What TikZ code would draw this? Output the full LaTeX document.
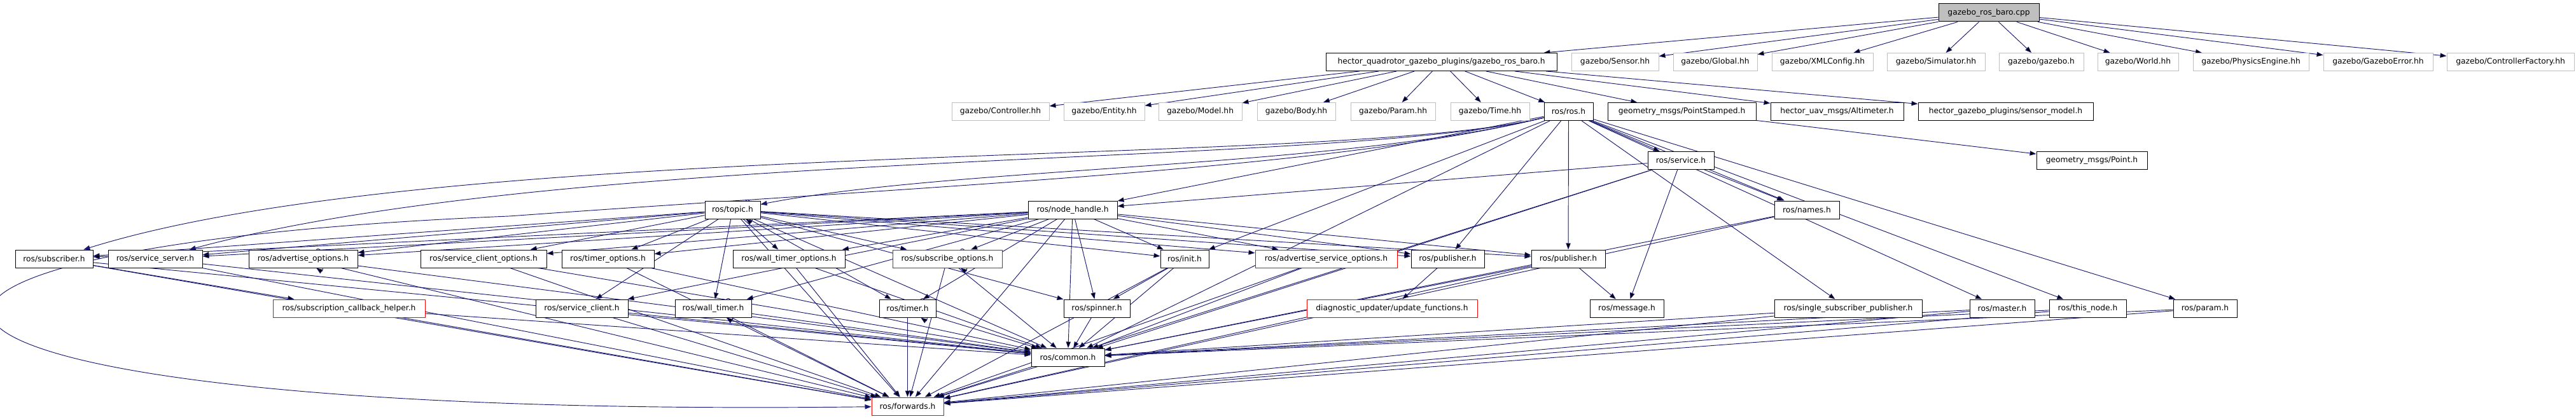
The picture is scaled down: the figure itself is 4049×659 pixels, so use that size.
\documentclass[tikz,border=0pt]{standalone}
\usepackage{fontspec}
\setsansfont{DejaVu Sans}
\usetikzlibrary{arrows.meta,topaths,backgrounds}
\definecolor{edgeblue}{RGB}{25,25,112}
\definecolor{grey75}{RGB}{191,191,191}

\tikzset{
  file/.style={rectangle, draw=black, fill=white, line width=0.75pt, inner sep=0pt,
    minimum height=21pt, font=\sffamily\fontsize{9.2}{10}\selectfont},
  extfile/.style={file, draw=grey75},
  cutfile/.style={file, draw=red},
  mainfile/.style={file, fill=grey75},
  boxw/.style={minimum width=#1*0.75pt},
  incl/.style={draw=edgeblue, line width=0.7pt, -{Triangle[length=7.5pt,width=5.5pt]}},
  loopr/.style={out=35, in=-35, loop, min distance=11pt}
}

\begin{document}
\begin{tikzpicture}[x=0.75pt, y=0.75pt]
  \useasboundingbox (0,0) rectangle (4049,-659);%
  \node[mainfile, boxw=158] (cpp) at (3126,-20) {gazebo\_ros\_baro.cpp};%
  \node[file, boxw=363] (baroh) at (2265.5,-97.5) {hector\_quadrotor\_gazebo\_plugins/gazebo\_ros\_baro.h};%
  \node[extfile, boxw=137] (sensor) at (2538.5,-97.5) {gazebo/Sensor.hh};%
  \node[extfile, boxw=132] (global) at (2696,-97.5) {gazebo/Global.hh};%
  \node[extfile, boxw=159] (xmlcfg) at (2864.5,-97.5) {gazebo/XMLConfig.hh};%
  \node[extfile, boxw=154] (simul) at (3043,-97.5) {gazebo/Simulator.hh};%
  \node[extfile, boxw=133] (gzh) at (3208.5,-97.5) {gazebo/gazebo.h};%
  \node[extfile, boxw=127] (world) at (3360.5,-97.5) {gazebo/World.hh};%
  \node[extfile, boxw=182] (physics) at (3538,-97.5) {gazebo/PhysicsEngine.hh};%
  \node[extfile, boxw=172] (gzerror) at (3738,-97.5) {gazebo/GazeboError.hh};%
  \node[extfile, boxw=200] (ctrlfact) at (3946,-97.5) {gazebo/ControllerFactory.hh};%

  \node[extfile, boxw=153] (ctrl) at (1572.5,-175.5) {gazebo/Controller.hh};%
  \node[extfile, boxw=127] (entity) at (1735.5,-175.5) {gazebo/Entity.hh};%
  \node[extfile, boxw=131] (model) at (1886.5,-175.5) {gazebo/Model.hh};%
  \node[extfile, boxw=123] (body) at (2037.5,-175.5) {gazebo/Body.hh};%
  \node[extfile, boxw=133] (paramhh) at (2189.5,-175.5) {gazebo/Param.hh};%
  \node[extfile, boxw=124] (timehh) at (2342,-175.5) {gazebo/Time.hh};%
  \node[file, boxw=77] (ros) at (2465.5,-175.5) {ros/ros.h};%
  \node[file, boxw=233] (ptstamp) at (2643.5,-175.5) {geometry\_msgs/PointStamped.h};%
  \node[file, boxw=209] (altim) at (2887.5,-175.5) {hector\_uav\_msgs/Altimeter.h};%
  \node[file, boxw=275] (sensmodel) at (3152.5,-175.5) {hector\_gazebo\_plugins/sensor\_model.h};%

  \node[file, boxw=104] (service) at (2642,-252.5) {ros/service.h};%
  \node[file, boxw=174] (point) at (3288,-252.5) {geometry\_msgs/Point.h};%

  \node[file, boxw=87] (topic) at (1151.5,-330) {ros/topic.h};%
  \node[file, boxw=140] (nh) at (1686,-330) {ros/node\_handle.h};%
  \node[file, boxw=102] (names) at (2840,-330) {ros/names.h};%

  \node[file, boxw=122] (sub) at (85,-407) {ros/subscriber.h};%
  \node[file, boxw=148] (srvserver) at (244,-407) {ros/service\_server.h};%
  \node[file, boxw=171] (advopts) at (476.5,-407) {ros/advertise\_options.h};%
  \node[file, boxw=198] (srvcliopts) at (760,-407) {ros/service\_client\_options.h};%
  \node[file, boxw=145] (timeropts) at (955.5,-407) {ros/timer\_options.h};%
  \node[file, boxw=176] (wtimeropts) at (1240,-407) {ros/wall\_timer\_options.h};%
  \node[cutfile, boxw=172] (subopts) at (1489,-407) {ros/subscribe\_options.h};%
  \node[file, boxw=76] (init) at (1862,-407) {ros/init.h};%
  \node[cutfile, boxw=223] (advsrvopts) at (2084.5,-407) {ros/advertise\_service\_options.h};%
  \node[file, boxw=115] (pubA) at (2275.5,-407) {ros/publisher.h};%
  \node[file, boxw=116] (pubB) at (2465,-407) {ros/publisher.h};%

  \node[cutfile, boxw=239] (subcb) at (548.5,-485) {ros/subscription\_callback\_helper.h};%
  \node[file, boxw=145] (srvclient) at (914.5,-485) {ros/service\_client.h};%
  \node[file, boxw=120] (wtimer) at (1121,-485) {ros/wall\_timer.h};%
  \node[file, boxw=89] (timer) at (1426.5,-485) {ros/timer.h};%
  \node[file, boxw=104] (spinner) at (1724,-485) {ros/spinner.h};%
  \node[cutfile, boxw=268] (updfunc) at (2188,-485) {diagnostic\_updater/update\_functions.h};%
  \node[file, boxw=116] (message) at (2557,-485) {ros/message.h};%
  \node[file, boxw=232] (singlepub) at (2905,-485) {ros/single\_subscriber\_publisher.h};%
  \node[file, boxw=102] (master) at (3147,-485) {ros/master.h};%
  \node[file, boxw=121] (thisnode) at (3281.5,-485) {ros/this\_node.h};%
  \node[file, boxw=100] (param) at (3466,-485) {ros/param.h};%

  \node[file, boxw=115] (common) at (1678.5,-562) {ros/common.h};%
  \node[cutfile, boxw=113] (fwd) at (1426.5,-639) {ros/forwards.h};%

  \begin{pgfonlayer}{background}
  \path[incl] (cpp) edge (baroh) edge (sensor) edge (global) edge (xmlcfg)%
    edge (simul) edge (gzh) edge (world) edge (physics) edge (gzerror) edge (ctrlfact);%
  \path[incl] (baroh) edge (ctrl) edge (entity) edge (model) edge (body)%
    edge (paramhh) edge (timehh) edge (ros) edge (ptstamp) edge (altim) edge (sensmodel);%
  \path[incl] (ptstamp) edge (point);%
  \path[incl] (ros) edge (nh) edge (service) edge (names) edge (init) edge (pubA) edge (pubB)%
    edge (common) edge (singlepub) edge (master) edge (thisnode) edge (param);%
  \draw[incl] (ros) .. controls (2100,-265) and (1500,-262) .. (topic);%
  \draw[incl] (ros) .. controls (2100,-265) and (700,-215) .. (sub);%
  \draw[incl] (ros) .. controls (2100,-265) and (900,-230) .. (srvserver);%
  \draw[incl] (ros) .. controls (2100,-265) and (1500,-290) .. (800,-340)%
    .. controls (-420,-390) and (-300,-660) .. (fwd);%
  \path[incl] (service) edge (nh) edge (names) edge (message) edge (common) edge (fwd);%
  \path[incl] (names) edge (common) edge (fwd);%
  \path[incl] (topic) edge[loopr] (topic) edge (sub) edge (srvserver) edge (advopts)%
    edge (srvcliopts) edge (timeropts) edge (wtimeropts) edge (subopts)%
    edge (srvclient) edge (wtimer) edge (timer) edge (init) edge (advsrvopts)%
    edge (pubA) edge (pubB) edge (spinner) edge (common) edge (fwd);%
  \path[incl] (nh) edge (sub) edge (srvserver) edge (advopts)%
    edge (srvcliopts) edge (timeropts) edge (wtimeropts) edge (subopts)%
    edge (srvclient) edge (wtimer) edge (timer) edge (init) edge (advsrvopts)%
    edge (pubA) edge (pubB) edge (spinner) edge (common) edge (fwd);%
  \path[incl] (sub) edge (subcb) edge (common) edge (fwd);%
  \path[incl] (srvserver) edge (common) edge (fwd);%
  \path[incl] (advopts) edge[loopr] (advopts) edge (common) edge (fwd);%
  \path[incl] (srvcliopts) edge (common) edge (fwd);%
  \path[incl] (timeropts) edge (common) edge (fwd);%
  \path[incl] (wtimeropts) edge (common) edge (fwd);%
  \path[incl] (subopts) edge[loopr] (subopts) edge (common) edge (fwd);%
  \path[incl] (init) edge (spinner) edge (common) edge (fwd);%
  \path[incl] (advsrvopts) edge (common) edge (fwd);%
  \path[incl] (pubA) edge (updfunc);%
  \path[incl] (pubB) edge (message) edge (common) edge (fwd);%
  \path[incl] (subcb) edge (common) edge (fwd);%
  \path[incl] (srvclient) edge (common) edge (fwd);%
  \path[incl] (wtimer) edge[loopr] (wtimer) edge (common) edge (fwd);%
  \path[incl] (timer) edge[loopr] (timer) edge (common) edge (fwd);%
  \path[incl] (spinner) edge (common);%
  \path[incl] (singlepub) edge (common) edge (fwd);%
  \path[incl] (master) edge (common) edge (fwd);%
  \path[incl] (thisnode) edge (common) edge (fwd);%
  \path[incl] (param) edge (common) edge (fwd);%
  \path[incl] (common) edge (fwd);%
  \end{pgfonlayer}
\end{tikzpicture}
\end{document}
